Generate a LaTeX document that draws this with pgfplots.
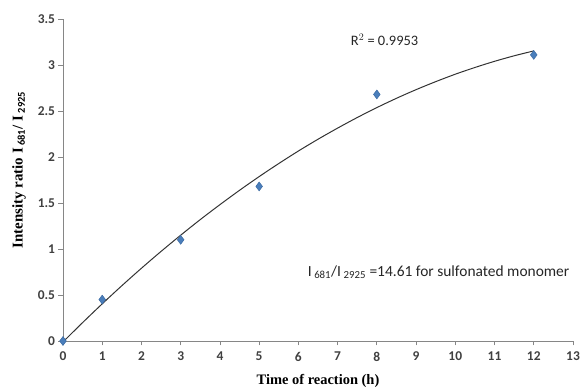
\documentclass[border=0pt]{standalone}
\usepackage{fontspec}
\setmainfont{Carlito}
\newfontfamily\timesf{Liberation Serif}
\usepackage{pgfplots}
\pgfplotsset{compat=1.18}
\definecolor{mk}{HTML}{4A7EBB}
\definecolor{mkd}{HTML}{35659E}
\definecolor{axc}{HTML}{868686}
\begin{document}
\begin{tikzpicture}
\begin{axis}[
  name=ax,
  scale only axis,
  width=510bp, height=322bp,
  xmin=0, xmax=13, ymin=0, ymax=3.5,
  xtick={0,1,2,3,4,5,6,7,8,9,10,11,12,13},
  xticklabels={0,1,2,3,4,5,6,7,8,9,10,11,12,13},
  ytick={0,0.5,1,1.5,2,2.5,3,3.5},
  yticklabels={0,0.5,1,1.5,2,2.5,3,3.5},
  axis lines=left,
  axis line style={draw=axc, line width=0.8pt, -},
  tick style={draw=axc, line width=0.8pt},
  tick align=outside,
  major tick length=4.5bp,
  tick label style={font=\fontsize{13.5}{16}\selectfont\bfseries, text=black!75},
  xticklabel style={yshift=-3bp},
  xlabel={\timesf\bfseries Time of reaction (h)},
  ylabel={\timesf\bfseries Intensity ratio I\,$_{\mathbf{681}}$/ I\,$_{\mathbf{2925}}$},
  xlabel style={font=\fontsize{14.5}{16}\selectfont, yshift=-6bp},
  ylabel style={font=\fontsize{15}{17}\selectfont, yshift=5bp, xshift=10bp},
  clip=false,
]
\addplot[black!80, line width=1pt, smooth] coordinates {
(0,-0.010) (0.5,0.200) (1,0.404) (1.5,0.601) (2,0.791) (2.5,0.974)
(3,1.150) (3.5,1.320) (4,1.482) (4.5,1.638) (5,1.787) (5.5,1.929)
(6,2.065) (6.5,2.193) (7,2.314) (7.5,2.429) (8,2.537) (8.5,2.638)
(9,2.732) (9.5,2.819) (10,2.900) (10.5,2.973) (11,3.040) (11.5,3.100)
(12,3.153)};
\addplot[only marks, mark=diamond*, mark size=4.5bp, mark options={fill=mk, draw=mkd, line width=0.4pt}] coordinates {
(0,0) (1,0.45) (3,1.10) (5,1.68) (8,2.68) (12,3.11)};
\node[anchor=west, font=\fontsize{14.5}{16}\selectfont, text=black!85] at (axis cs:7.25,3.27) {R$^{2}$ = 0.9953};
\node[anchor=west, font=\fontsize{15.5}{17}\selectfont, text=black!85] at (axis cs:6.15,0.75) {I\,$_{\mathrm{681}}$/I\,$_{\mathrm{2925}}$ =14.61 for sulfonated monomer};
\end{axis}
\pgfresetboundingbox
\path ([shift={(-63bp,-48bp)}]ax.south west) rectangle ([shift={(10bp,19bp)}]ax.north east);
\end{tikzpicture}
\end{document}
